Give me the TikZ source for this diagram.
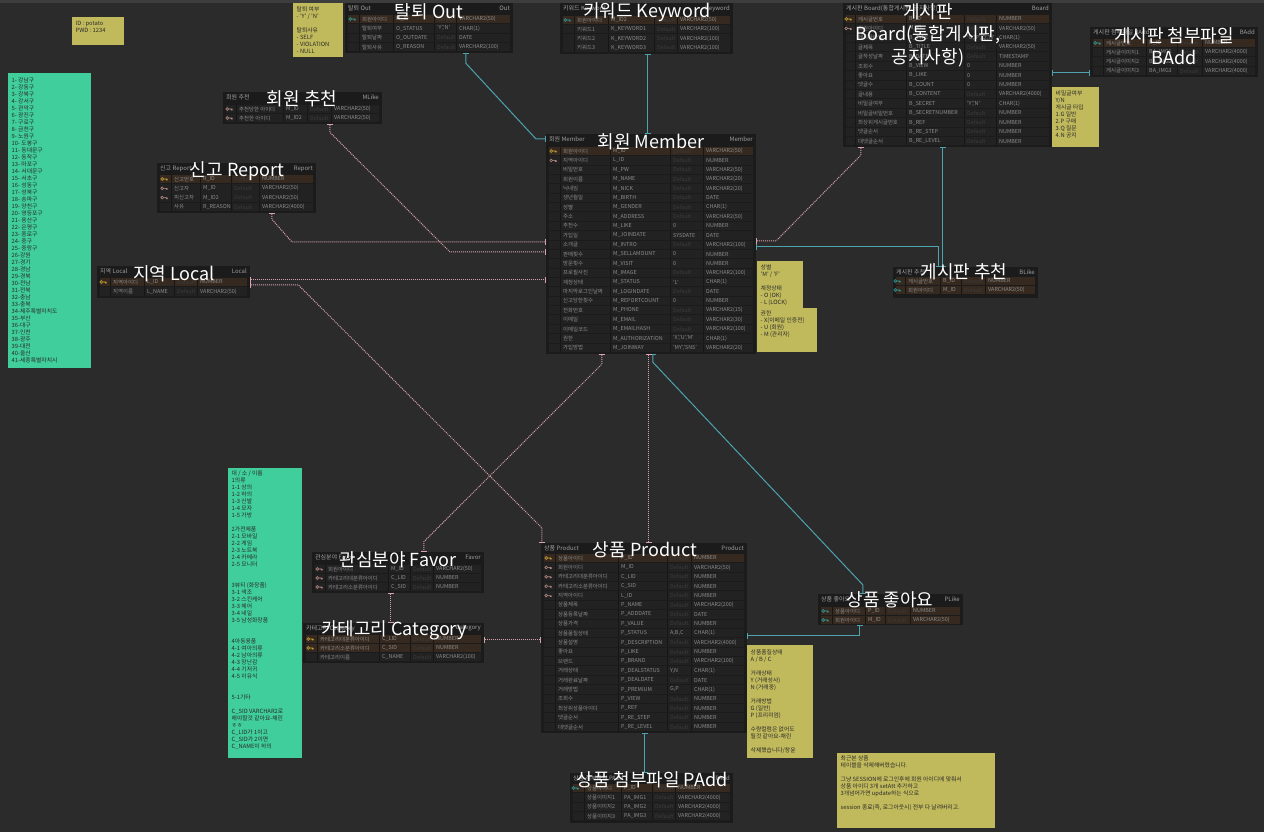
\documentclass[tikz,border=0pt]{standalone}
\usepackage{fontspec}
\setmainfont{Noto Sans CJK KR}
\usetikzlibrary{calc,fit,arrows.meta}
\definecolor{bg}{HTML}{2B2B2B}
\definecolor{topband}{HTML}{3D3D3D}
\definecolor{tblbg}{HTML}{1B1B1B}
\definecolor{rowbg}{HTML}{222222}
\definecolor{pkbg}{HTML}{36291F}
\definecolor{sepc}{HTML}{161616}
\definecolor{cellc}{HTML}{8C8C8C}
\definecolor{hdrc}{HTML}{A0A0A0}
\definecolor{dimc}{HTML}{3C3C3C}
\definecolor{keyY}{HTML}{C8A335}
\definecolor{keyP}{HTML}{B98C86}
\definecolor{keyT}{HTML}{2E9E9A}
\definecolor{noteY}{HTML}{C1BA5C}
\definecolor{noteG}{HTML}{3FCE9C}
\definecolor{tealc}{HTML}{4DA3AE}
\definecolor{pinkc}{HTML}{D8A3AD}
\definecolor{ntextc}{HTML}{2A2A2A}
\def\knone{none}
\newcommand\keyicon[3]{\draw[#1,line width=0.6pt] (#2-1.8,#3) circle[radius=1.4pt] (#2-0.4,#3) -- (#2+3.2,#3) (#2+2.2,#3) -- (#2+2.2,#3+1.4) (#2+3.2,#3) -- (#2+3.2,#3+1.4);}
\newcommand\etab[9]{%
  \def\tL{#2}\def\tR{#4}\def\tyz{#8}\def\tdy{#9}%
  \fill[tblbg] (#2,#3) rectangle (#4,#5);
  \node[fit={(#2,#3) (#4,#5)},inner sep=0pt] (#1) {};
  \node[hdr,anchor=west] at (#2+3,#3+5.5) {#6};
  \node[hdr,anchor=east] at (#4-3,#3+5.5) {#7};
}
\newcommand\ecols[5]{\def\cK{#1}\def\cN{#2}\def\cP{#3}\def\cD{#4}\def\cT{#5}}
\newcommand\erow[7]{%
  \pgfmathsetmacro\ry{\tyz+#1*\tdy}%
  \fill[#2] (\tL+3,\ry-4.2) rectangle (\tR-3,\ry+4.2);
  \foreach \cc in {\cN,\cP,\cD,\cT} \draw[sepc,line width=0.8pt] (\cc-3,\ry-4.2) -- (\cc-3,\ry+4.2);
  \def\tmpk{#3}\ifx\tmpk\knone\else\keyicon{#3}{\cK}{\ry}\fi
  \node[cell] at (\cN,\ry) {#4};
  \node[cell] at (\cP,\ry) {#5};
  \def\tmpd{#6}\ifx\tmpd\empty\node[cell,text=dimc] at (\cD,\ry) {Default};\else\node[cell] at (\cD,\ry) {#6};\fi
  \node[cell] at (\cT,\ry) {#7};
}
\newcommand\enote[8]{%
  \fill[#2] (#3,#4) rectangle (#5,#6);
  \node[fit={(#3,#4) (#5,#6)},inner sep=0pt] (#1) {};
  \node[ntext,anchor=north west] at (#3+3.5,#7) {#8};
}
\tikzset{
  cell/.style={anchor=west,inner sep=0pt,text=cellc,font=\fontsize{5.4}{6}\selectfont},
  hdr/.style={inner sep=0pt,text=hdrc,font=\fontsize{6}{7}\selectfont},
  big/.style={inner sep=0pt,text=white,font=\fontsize{18}{22.5}\selectfont,align=center},
  ntext/.style={inner sep=0pt,text=ntextc,align=left,font=\fontsize{5.8}{7}\selectfont},
  tealln/.style={draw=tealc,line width=1pt,{Bar[width=6pt]}-{Bar[width=6pt]}},
  pinkln/.style={draw=pinkc,line width=1pt,dash pattern=on 1pt off 1pt,{Bar[width=6pt]}-{Bar[width=6pt]}},
}
\begin{document}
\begin{tikzpicture}[x=1pt,y=-1pt]
\useasboundingbox (0,0) rectangle (1264,832);
\fill[bg] (0,0) rectangle (1264,832);
\fill[topband] (0,0) rectangle (1264,3);

% ---------- notes ----------
\enote{nidpw}{noteY}{72}{17}{124}{45}{21.5}{ID : potato\\PWD : 1234}
\enote{nout}{noteY}{293}{3}{343}{57}{6.5}{탈퇴 여부\\- 'Y' / 'N'\\[7pt]탈퇴사유\\- SELF\\- VIOLATION\\- NULL}
\enote{nboard}{noteY}{1052}{87}{1099}{147}{90.5}{비밀글여부\\Y/N\\게시글 타입\\1.G 일반\\2.P 구매\\3.Q 질문\\4.N 공지}
\enote{nmem1}{noteY}{757}{261}{803}{308}{264.5}{성별\\'M' / 'F'\\[7pt]계정상태\\- O (OK)\\- L (LOCK)}
\enote{nmem2}{noteY}{757}{308}{817}{352}{310.5}{권한\\- X(이메일 인증전)\\- U (회원)\\- M (관리자)}
\enote{nprod}{noteY}{747}{645}{813}{758}{649.5}{상품품질상태\\A / B / C\\[7pt]거래상태\\Y (거래성사)\\N (거래중)\\[7pt]거래방법\\G (일반)\\P (프리미엄)\\[7pt]수량컬럼은 없어도\\될것 같아요-채린\\[7pt]삭제했습니다/창윤}
\enote{nlast}{noteY}{837}{753}{995}{828}{755.5}{최근본 상품\\테이블을 삭제해버렸습니다.\\[7pt]그냥 SESSION에 로그인후에 회원 아이디에 맞춰서\\상품 아이디 3개 setAtt 추가하고\\3개넘어가면 update하는 식으로\\[7pt]session 종료(즉, 로그아웃시) 전부 다 날려버리고.}
\enote{gloc}{noteG}{8}{73}{91}{368}{77.5}{1- 강남구\\2- 강동구\\3- 강북구\\4- 강서구\\5- 관악구\\6- 광진구\\7- 구로구\\8- 금천구\\9- 노원구\\10- 도봉구\\11- 동대문구\\12- 동작구\\13- 마포구\\14- 서대문구\\15- 서초구\\16- 성동구\\17- 성북구\\18- 송파구\\19- 양천구\\20- 영등포구\\21- 용산구\\22- 은평구\\23- 종로구\\24- 중구\\25- 중랑구\\26-강원\\27-경기\\28-경남\\29-경북\\30-전남\\31-전북\\32-충남\\33-충북\\34-제주특별자치도\\35-부산\\36-대구\\37-인천\\38-광주\\39-대전\\40-울산\\41-세종특별자치시}
\enote{gcat}{noteG}{228}{468}{302}{758}{470.5}{대 / 소 / 이름\\1의류\\1-1 상의\\1-2 하의\\1-3 신발\\1-4 모자\\1-5 가방\\[7pt]2가전제품\\2-1 모바일\\2-2 게임\\2-3 노트북\\2-4 카메라\\2-5 모니터\\[14pt]3뷰티 (화장품)\\3-1 색조\\3-2 스킨케어\\3-3 헤어\\3-4 네일\\3-5 남성화장품\\[14pt]4아동용품\\4-1 여아의류\\4-2 남아의류\\4-3 장난감\\4-4 기저귀\\4-5 이유식\\[14pt]5-1기타\\[7pt]C\_SID VARCHAR2로\\해야할것 같아요-채린\\ㅎㅎ\\C\_LID가 1이고\\C\_SID가 2이면\\C\_NAME이 하의}

% ---------- tables ----------
\etab{out}{345}{3}{513}{53}{탈퇴 Out}{Out}{19}{9.4}
\ecols{352}{362}{396}{437}{459}
\erow{0}{pkbg}{keyT}{회원아이디}{M\_ID}{}{VARCHAR2(50)}
\erow{1}{rowbg}{none}{탈퇴여부}{O\_STATUS}{'Y','N'}{CHAR(1)}
\erow{2}{rowbg}{none}{탈퇴날짜}{O\_OUTDATE}{}{DATE}
\erow{3}{rowbg}{none}{탈퇴사유}{O\_REASON}{}{VARCHAR2(100)}

\etab{kw}{560}{3}{733}{54}{키워드 Keyword}{Keyword}{20}{9.2}
\ecols{567}{577}{611}{657}{680}
\erow{0}{pkbg}{keyT}{회원아이디}{M\_ID2}{}{VARCHAR2(50)}
\erow{1}{rowbg}{none}{키워드1}{K\_KEYWORD1}{}{VARCHAR2(100)}
\erow{2}{rowbg}{none}{키워드2}{K\_KEYWORD2}{}{VARCHAR2(100)}
\erow{3}{rowbg}{none}{키워드3}{K\_KEYWORD3}{}{VARCHAR2(100)}

\etab{board}{843}{3}{1052}{147}{게시판 Board(통합게시판, 공지사항)}{Board}{19}{9.4}
\ecols{848}{858}{909}{967}{999}
\erow{0}{pkbg}{keyY}{게시글번호}{B\_ID}{}{NUMBER}
\erow{1}{rowbg}{keyP}{회원아이디}{M\_ID}{}{VARCHAR2(50)}
\erow{2}{rowbg}{none}{게시글타입}{B\_TYPE}{'G','P','Q','N'}{CHAR(1)}
\erow{3}{rowbg}{none}{글제목}{B\_TITLE}{}{VARCHAR2(50)}
\erow{4}{rowbg}{none}{글작성날짜}{B\_DATE}{}{TIMESTAMP}
\erow{5}{rowbg}{none}{조회수}{B\_VIEW}{0}{NUMBER}
\erow{6}{rowbg}{none}{좋아요}{B\_LIKE}{0}{NUMBER}
\erow{7}{rowbg}{none}{댓글수}{B\_COUNT}{0}{NUMBER}
\erow{8}{rowbg}{none}{글내용}{B\_CONTENT}{}{VARCHAR2(4000)}
\erow{9}{rowbg}{none}{비밀글여부}{B\_SECRET}{'Y','N'}{CHAR(1)}
\erow{10}{rowbg}{none}{비밀글비밀번호}{B\_SECRETNUMBER}{}{NUMBER}
\erow{11}{rowbg}{none}{최상위게시글번호}{B\_REF}{}{NUMBER}
\erow{12}{rowbg}{none}{댓글순서}{B\_RE\_STEP}{}{NUMBER}
\erow{13}{rowbg}{none}{대댓글순서}{B\_RE\_LEVEL}{}{NUMBER}

\etab{badd}{1090}{27}{1258}{77}{게시판 첨부파일 BAdd}{BAdd}{43}{9.3}
\ecols{1097}{1106}{1149}{1180}{1205}
\erow{0}{pkbg}{keyT}{게시글번호}{B\_ID}{}{NUMBER}
\erow{1}{rowbg}{none}{게시글이미지1}{BA\_IMG1}{}{VARCHAR2(4000)}
\erow{2}{rowbg}{none}{게시글이미지2}{BA\_IMG2}{}{VARCHAR2(4000)}
\erow{3}{rowbg}{none}{게시글이미지3}{BA\_IMG3}{}{VARCHAR2(4000)}

\etab{mem}{546}{134}{756}{354}{회원 Member}{Member}{151}{9.37}
\ecols{553}{563}{613}{673}{706}
\erow{0}{pkbg}{keyY}{회원아이디}{M\_ID}{}{VARCHAR2(50)}
\erow{1}{rowbg}{keyP}{지역아이디}{L\_ID}{}{NUMBER}
\erow{2}{rowbg}{none}{비밀번호}{M\_PW}{}{VARCHAR2(50)}
\erow{3}{rowbg}{none}{회원이름}{M\_NAME}{}{VARCHAR2(20)}
\erow{4}{rowbg}{none}{닉네임}{M\_NICK}{}{VARCHAR2(20)}
\erow{5}{rowbg}{none}{생년월일}{M\_BIRTH}{}{DATE}
\erow{6}{rowbg}{none}{성별}{M\_GENDER}{}{CHAR(1)}
\erow{7}{rowbg}{none}{주소}{M\_ADDRESS}{}{VARCHAR2(50)}
\erow{8}{rowbg}{none}{추천수}{M\_LIKE}{0}{NUMBER}
\erow{9}{rowbg}{none}{가입일}{M\_JOINDATE}{SYSDATE}{DATE}
\erow{10}{rowbg}{none}{소개글}{M\_INTRO}{}{VARCHAR2(100)}
\erow{11}{rowbg}{none}{판매횟수}{M\_SELLAMOUNT}{0}{NUMBER}
\erow{12}{rowbg}{none}{방문횟수}{M\_VISIT}{0}{NUMBER}
\erow{13}{rowbg}{none}{프로필사진}{M\_IMAGE}{}{VARCHAR2(100)}
\erow{14}{rowbg}{none}{계정상태}{M\_STATUS}{'L'}{CHAR(1)}
\erow{15}{rowbg}{none}{마지막로그인날짜}{M\_LOGINDATE}{}{DATE}
\erow{16}{rowbg}{none}{신고당한횟수}{M\_REPORTCOUNT}{0}{NUMBER}
\erow{17}{rowbg}{none}{전화번호}{M\_PHONE}{}{VARCHAR2(15)}
\erow{18}{rowbg}{none}{이메일}{M\_EMAIL}{}{VARCHAR2(30)}
\erow{19}{rowbg}{none}{이메일코드}{M\_EMAILHASH}{}{VARCHAR2(100)}
\erow{20}{rowbg}{none}{권한}{M\_AUTHORIZATION}{'X','U','M'}{CHAR(1)}
\erow{21}{rowbg}{none}{가입방법}{M\_JOINWAY}{'MY','SNS'}{VARCHAR2(20)}

\etab{mlike}{223}{92}{382}{124}{회원 추천}{MLike}{109}{9}
\ecols{229}{239}{286}{310}{334}
\erow{0}{rowbg}{keyP}{추천당한 아이디}{M\_ID}{}{VARCHAR2(50)}
\erow{1}{rowbg}{keyP}{추천한 아이디}{M\_ID2}{}{VARCHAR2(50)}

\etab{report}{157}{163}{316}{213}{신고 Report}{Report}{179}{9.3}
\ecols{164}{174}{203}{234}{262}
\erow{0}{pkbg}{keyY}{신고번호}{R\_ID}{}{NUMBER}
\erow{1}{rowbg}{keyP}{신고자}{M\_ID}{}{VARCHAR2(50)}
\erow{2}{rowbg}{keyP}{피신고자}{M\_ID2}{}{VARCHAR2(50)}
\erow{3}{rowbg}{none}{사유}{R\_REASON}{}{VARCHAR2(4000)}

\etab{local}{97}{266}{250}{298}{지역 Local}{Local}{282}{9.5}
\ecols{103}{113}{147}{177}{200}
\erow{0}{pkbg}{keyY}{지역아이디}{L\_ID}{}{NUMBER}
\erow{1}{rowbg}{none}{지역이름}{L\_NAME}{}{VARCHAR2(50)}

\etab{blike}{893}{267}{1038}{298}{게시판 추천}{BLike}{281}{9}
\ecols{897}{908}{943}{964}{988}
\erow{0}{pkbg}{keyT}{게시글번호}{B\_ID}{}{NUMBER}
\erow{1}{pkbg}{keyT}{회원아이디}{M\_ID}{}{VARCHAR2(50)}

\etab{favor}{312}{552}{484}{593}{관심분야 Favor}{Favor}{569}{9}
\ecols{319}{328}{391}{413}{436}
\erow{0}{rowbg}{keyP}{회원아이디}{M\_ID}{}{VARCHAR2(50)}
\erow{1}{rowbg}{keyP}{카테고리대분류아이디}{C\_LID}{}{NUMBER}
\erow{2}{rowbg}{keyP}{카테고리소분류아이디}{C\_SID}{}{NUMBER}

\etab{cat}{303}{623}{484}{663}{카테고리 Category}{Category}{639}{9}
\ecols{310}{320}{382}{413}{436}
\erow{0}{pkbg}{keyY}{카테고리대분류아이디}{C\_LID}{}{NUMBER}
\erow{1}{pkbg}{keyY}{카테고리소분류아이디}{C\_SID}{}{NUMBER}
\erow{2}{rowbg}{none}{카테고리이름}{C\_NAME}{}{VARCHAR2(100)}

\etab{prod}{541}{543}{747}{733}{상품 Product}{Product}{558}{9.39}
\ecols{548}{558}{621}{670}{694}
\erow{0}{pkbg}{keyY}{상품아이디}{P\_ID}{}{NUMBER}
\erow{1}{rowbg}{keyP}{회원아이디}{M\_ID}{}{VARCHAR2(50)}
\erow{2}{rowbg}{keyP}{카테고리대분류아이디}{C\_LID}{}{NUMBER}
\erow{3}{rowbg}{keyP}{카테고리소분류아이디}{C\_SID}{}{NUMBER}
\erow{4}{rowbg}{keyP}{지역아이디}{L\_ID}{}{NUMBER}
\erow{5}{rowbg}{none}{상품제목}{P\_NAME}{}{VARCHAR2(200)}
\erow{6}{rowbg}{none}{상품등록날짜}{P\_ADDDATE}{}{DATE}
\erow{7}{rowbg}{none}{상품가격}{P\_VALUE}{}{NUMBER}
\erow{8}{rowbg}{none}{상품품질상태}{P\_STATUS}{A,B,C}{CHAR(1)}
\erow{9}{rowbg}{none}{상품설명}{P\_DESCRIPTION}{}{VARCHAR2(4000)}
\erow{10}{rowbg}{none}{좋아요}{P\_LIKE}{}{NUMBER}
\erow{11}{rowbg}{none}{브랜드}{P\_BRAND}{}{VARCHAR2(100)}
\erow{12}{rowbg}{none}{거래상태}{P\_DEALSTATUS}{Y,N}{CHAR(1)}
\erow{13}{rowbg}{none}{거래완료날짜}{P\_DEALDATE}{}{DATE}
\erow{14}{rowbg}{none}{거래방법}{P\_PREMIUM}{G,P}{CHAR(1)}
\erow{15}{rowbg}{none}{조회수}{P\_VIEW}{}{NUMBER}
\erow{16}{rowbg}{none}{최상위상품아이디}{P\_REF}{}{NUMBER}
\erow{17}{rowbg}{none}{댓글순서}{P\_RE\_STEP}{}{NUMBER}
\erow{18}{rowbg}{none}{대댓글순서}{P\_RE\_LEVEL}{}{NUMBER}

\etab{plike}{818}{594}{963}{625}{상품 좋아요}{PLike}{611}{9}
\ecols{825}{835}{868}{888}{913}
\erow{0}{pkbg}{keyT}{상품아이디}{P\_ID}{}{NUMBER}
\erow{1}{pkbg}{keyT}{회원아이디}{M\_ID}{}{VARCHAR2(50)}

\etab{padd}{570}{773}{733}{823}{상품 첨부파일 PAdd}{PAdd}{788}{9.4}
\ecols{575}{587}{624}{655}{678}
\erow{0}{pkbg}{keyT}{상품아이디}{P\_ID}{}{NUMBER}
\erow{1}{rowbg}{none}{상품이미지1}{PA\_IMG1}{}{VARCHAR2(4000)}
\erow{2}{rowbg}{none}{상품이미지2}{PA\_IMG2}{}{VARCHAR2(4000)}
\erow{3}{rowbg}{none}{상품이미지3}{PA\_IMG3}{}{VARCHAR2(4000)}

% ---------- connectors ----------
\draw[tealln] ($(out.south west)+(121,0)$) -- ++(0,10) -- ($(mem.north west)+(-10,5)$) -- ($(mem.north west)+(0,5)$);
\draw[tealln] ($(kw.south west)+(88,0)$) coordinate (kwb) -- (kwb |- mem.north);
\draw[tealln] ($(board.north east)+(0,70)$) coordinate (bdr) -- (bdr -| badd.west);
\draw[tealln] ($(board.south west)+(100,0)$) coordinate (bdb) -- (bdb |- blike.north);
\draw[tealln] ($(mem.north east)+(0,113)$) -| ($(blike.north west)+(46,0)$);
\draw[tealln] ($(mem.south west)+(107,0)$) -- ++(0,8) -- ($(plike.north west)+(45,-9)$) -- ($(plike.north west)+(45,0)$);
\draw[tealln] ($(prod.north east)+(0,93)$) -| ($(plike.south west)+(42,0)$);
\draw[tealln] ($(prod.south west)+(104,0)$) coordinate (pdb) -- (pdb |- padd.north);

\draw[pinkln] ($(board.south west)+(18,0)$) -- ++(0,8) -- ($(mem.north east)+(20,107)$) -- ($(mem.north east)+(0,107)$);
\draw[pinkln] ($(mlike.south west)+(107,0)$) -- ++(0,8) -- ($(mem.north west)+(-96,118)$) -- ($(mem.north west)+(0,118)$);
\draw[pinkln] ($(report.south west)+(115,0)$) -- ++(0,6) -- ($(mem.north west)+(-254,108)$) -- ($(mem.north west)+(0,108)$);
\draw[pinkln] ($(local.north east)+(0,14)$) coordinate (lc1) -- (lc1 -| mem.west);
\draw[pinkln] ($(local.north east)+(0,19)$) -- ++(48,0) -- ($(prod.north west)+(1,-15)$) -- ($(prod.north west)+(1,0)$);
\draw[pinkln] ($(mem.south west)+(103,0)$) coordinate (mb1) -- (mb1 |- prod.north);
\draw[pinkln] ($(mem.south west)+(56,0)$) -- ++(0,10) -- ($(favor.north west)+(112,-10)$) -- ($(favor.north west)+(112,0)$);
\draw[pinkln] ($(favor.south west)+(79,0)$) coordinate (fvb) -- (fvb |- cat.north);
\draw[pinkln] ($(cat.north east)+(0,17)$) coordinate (ctr) -- (ctr -| prod.west);

% ---------- big labels ----------
\node[big] (lout) at (429,12) {탈퇴 Out};
\node[big] (lkw) at (647,12) {키워드 Keyword};
\node[big] (lboard) at (928,35) {게시판\\Board(통합게시판,\\공지사항)};
\node[big] (lbadd) at (1174,46) {게시판 첨부파일\\BAdd};
\node[big] (lmlike) at (302,99) {회원 추천};
\node[big] (lreport) at (237,171) {신고 Report};
\node[big] (llocal) at (174,274) {지역 Local};
\node[big] (lmem) at (651,142) {회원 Member};
\node[big] (lblike) at (964,272) {게시판 추천};
\node[big] (lfavor) at (398,560) {관심분야 Favor};
\node[big] (lcat) at (394,630) {카테고리 Category};
\node[big] (lprod) at (645,550) {상품 Product};
\node[big] (lplike) at (890,600) {상품 좋아요};
\node[big] (lpadd) at (652,780) {상품 첨부파일 PAdd};
\end{tikzpicture}
\end{document}
